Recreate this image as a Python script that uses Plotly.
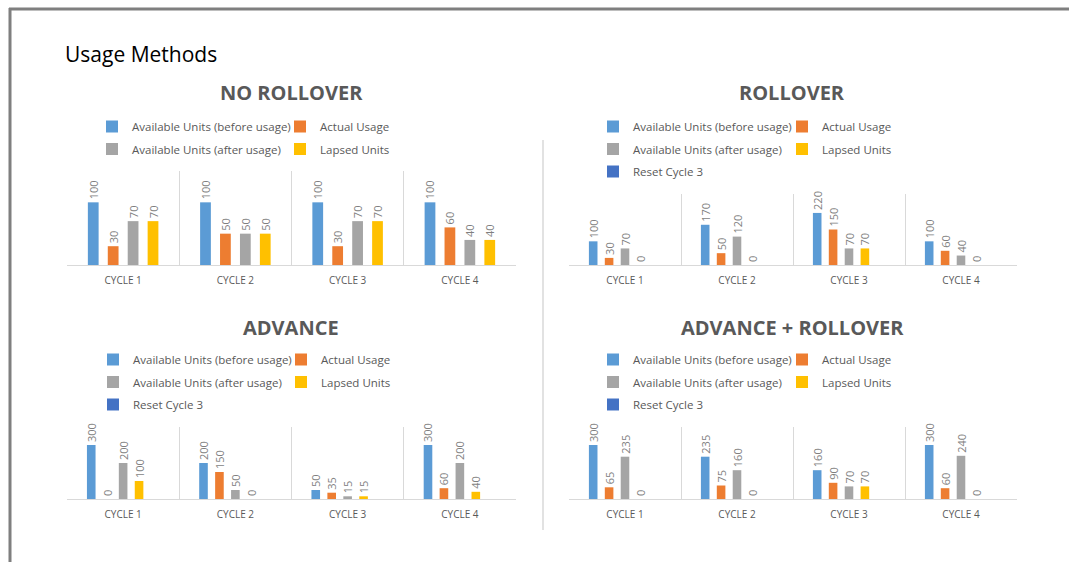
import plotly.graph_objects as go

# ---------------- data ----------------
cycles = ["CYCLE 1", "CYCLE 2", "CYCLE 3", "CYCLE 4"]
series_names = ["Available Units (before usage)", "Actual Usage",
                "Available Units (after usage)", "Lapsed Units", "Reset Cycle 3"]

nr_before = [100, 100, 100, 100]
nr_actual = [30, 50, 30, 60]
nr_after = [70, 50, 70, 40]
nr_lapsed = [70, 50, 70, 40]

ro_before = [100, 170, 220, 100]
ro_actual = [30, 50, 150, 60]
ro_after = [70, 120, 70, 40]
ro_lapsed = [0, 0, 70, 0]
ro_reset = [None, None, None, None]

ad_before = [300, 200, 50, 300]
ad_actual = [0, 150, 35, 60]
ad_after = [200, 50, 15, 200]
ad_lapsed = [100, 0, 15, 40]
ad_reset = [None, None, None, None]

ar_before = [300, 235, 160, 300]
ar_actual = [65, 75, 90, 60]
ar_after = [235, 160, 70, 240]
ar_lapsed = [0, 0, 70, 0]
ar_reset = [None, None, None, None]

# ---------------- styling ----------------
colors = ["#5B9BD5", "#ED7D31", "#A5A5A5", "#FFC000", "#4472C4"]
legend_col = [0, 1, 0, 1, 0]   # which legend column each series sits in
W, H = 1069, 562
FONT = "Open Sans"
GRAY = "#595959"


def fx(v):
    return v / W


def fy(v):
    return 1 - v / H


panels = [
    dict(title="NO ROLLOVER", data=[nr_before, nr_actual, nr_after, nr_lapsed],
         ax="", legs=("legend", "legend5"), ymax=150, x=(67, 516), y=(171, 265),
         tx=291, ty=93, lx=(92, 280), ly=112),
    dict(title="ROLLOVER", data=[ro_before, ro_actual, ro_after, ro_lapsed, ro_reset],
         ax="2", legs=("legend2", "legend6"), ymax=300, x=(569, 1017), y=(194, 265),
         tx=792, ty=93, lx=(593, 782), ly=112),
    dict(title="ADVANCE", data=[ad_before, ad_actual, ad_after, ad_lapsed, ad_reset],
         ax="3", legs=("legend3", "legend7"), ymax=400, x=(67, 516), y=(427, 499),
         tx=291, ty=327, lx=(93, 281), ly=345),
    dict(title="ADVANCE + ROLLOVER", data=[ar_before, ar_actual, ar_after, ar_lapsed, ar_reset],
         ax="4", legs=("legend4", "legend8"), ymax=400, x=(569, 1017), y=(427, 499),
         tx=792, ty=327, lx=(593, 782), ly=345),
]

fig = go.Figure()
layout = dict(
    width=W, height=H, margin=dict(l=0, r=0, t=0, b=0),
    paper_bgcolor="white", plot_bgcolor="white",
    barmode="group", bargap=0.29, bargroupgap=0.46,
    showlegend=True, font=dict(family=FONT, color=GRAY),
)
annotations = []
shapes = []

for pi, p in enumerate(panels):
    for si, vals in enumerate(p["data"]):
        fig.add_trace(go.Bar(
            x=cycles, y=vals, name=series_names[si],
            marker=dict(color=colors[si], line=dict(width=0)),
            text=vals, textposition="outside", textangle=-90,
            textfont=dict(family=FONT, size=11, color="#7F7F7F"),
            constraintext="none", cliponaxis=False,
            xaxis="x" + p["ax"], yaxis="y" + p["ax"],
            legend=p["legs"][legend_col[si]], legendgroup=f"g{pi}_{si}",
            hoverinfo="x+y+name",
        ))
    xk = "xaxis" + p["ax"]
    yk = "yaxis" + p["ax"]
    layout[xk] = dict(
        domain=[fx(p["x"][0]), fx(p["x"][1])], anchor="y" + p["ax"],
        type="category", tickson="boundaries", ticks="",
        showgrid=True, gridcolor="#D9D9D9", gridwidth=1,
        showline=True, linecolor="#D9D9D9", linewidth=1,
        tickfont=dict(family=FONT, size=10, color=GRAY),
        ticklabelstandoff=6, fixedrange=True,
    )
    layout[yk] = dict(
        domain=[fy(p["y"][1]), fy(p["y"][0])], anchor="x" + p["ax"],
        range=[0, p["ymax"]], visible=False, fixedrange=True,
    )
    for ci, leg in enumerate(p["legs"]):
        layout[leg] = dict(
            orientation="v", traceorder="grouped", tracegroupgap=3.5,
            x=fx(p["lx"][ci]), y=fy(p["ly"]), xanchor="left", yanchor="top",
            font=dict(family=FONT, size=11.5, color=GRAY),
            bgcolor="rgba(0,0,0,0)", itemclick=False, itemdoubleclick=False,
        )
    annotations.append(dict(
        text=p["title"], x=fx(p["tx"]), y=fy(p["ty"]), xref="paper", yref="paper",
        xanchor="center", yanchor="middle", showarrow=False,
        font=dict(family=FONT, size=20, color=GRAY, weight=700),
    ))

annotations.append(dict(
    text="Usage Methods", x=fx(63), y=fy(54), xref="paper", yref="paper",
    xanchor="left", yanchor="middle", showarrow=False,
    font=dict(family=FONT, size=21, color="#000000"),
))

# frame and centre divider
shapes.append(dict(type="line", xref="paper", yref="paper",
                   x0=fx(9), x1=1.0, y0=fy(9), y1=fy(9),
                   line=dict(color="#7F7F7F", width=3)))
shapes.append(dict(type="line", xref="paper", yref="paper",
                   x0=fx(10), x1=fx(10), y0=0, y1=fy(8),
                   line=dict(color="#7F7F7F", width=3)))
shapes.append(dict(type="line", xref="paper", yref="paper",
                   x0=fx(543), x1=fx(543), y0=fy(530), y1=fy(140),
                   line=dict(color="#D9D9D9", width=1.5)))

layout["annotations"] = annotations
layout["shapes"] = shapes
fig.update_layout(**layout)

fig.write_html("out.html", config={"displayModeBar": False},
               post_script="document.body.style.margin='0';")
